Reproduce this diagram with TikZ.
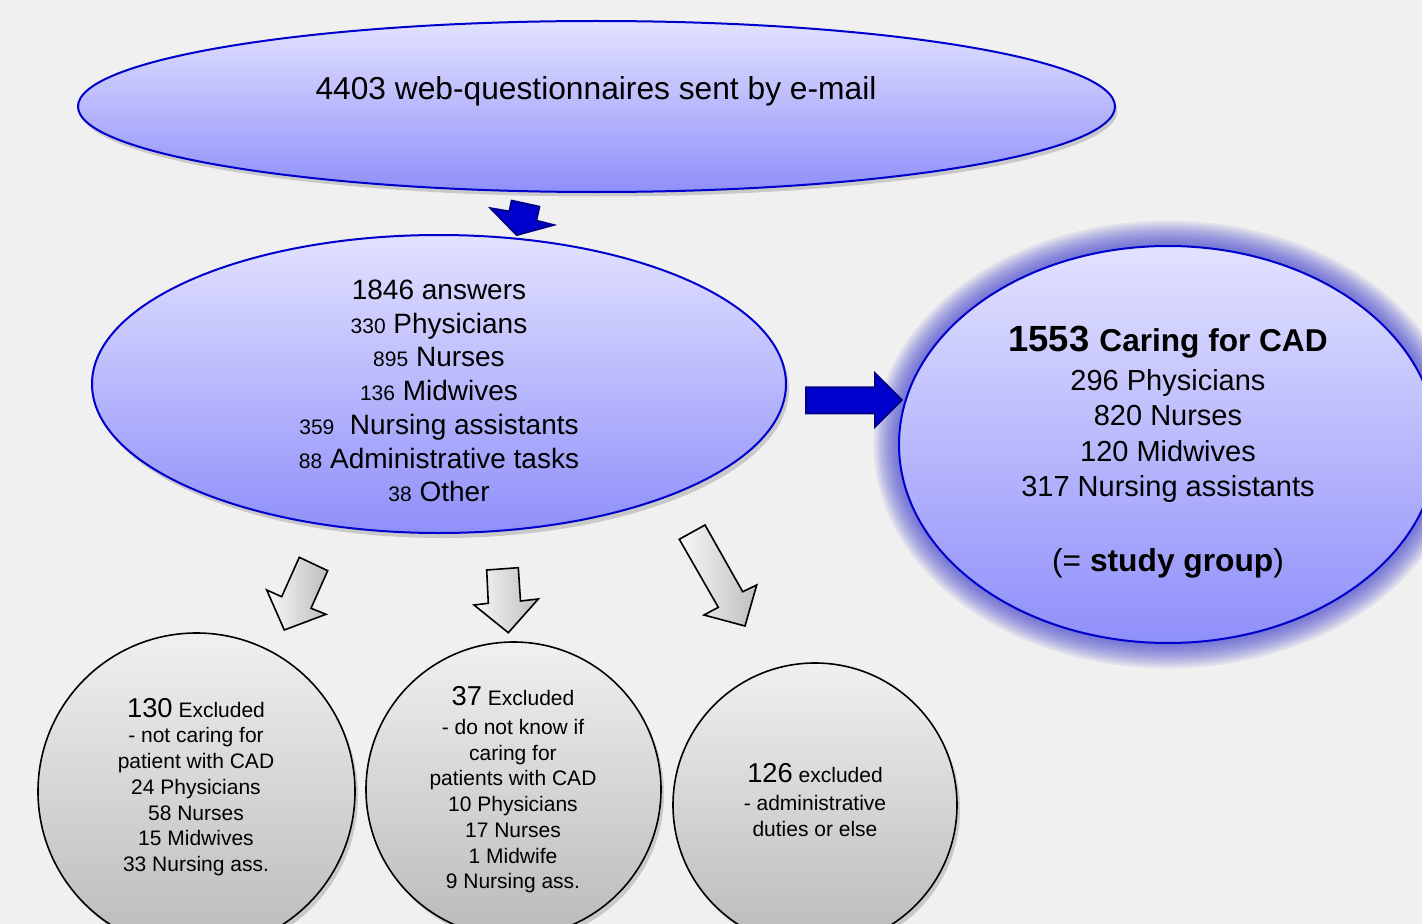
\documentclass[tikz,border=0pt]{standalone}
\usepackage{fontspec}
\setmainfont{Liberation Sans}
\usepackage{tikz}

\definecolor{bgGray}{RGB}{240,240,240}
\definecolor{ellTop}{RGB}{226,226,255}
\definecolor{ellBot}{RGB}{143,143,250}
\definecolor{ellLine}{RGB}{0,0,205}
\definecolor{glowBlue}{RGB}{55,55,205}
\definecolor{circTop}{RGB}{240,240,240}
\definecolor{circBot}{RGB}{186,186,186}
\definecolor{arrLight}{RGB}{248,248,248}
\definecolor{arrDark}{RGB}{190,190,190}
\definecolor{arrBlue}{RGB}{0,0,205}
\definecolor{arrBlueLine}{RGB}{0,0,140}

\newcommand{\smallnum}[1]{{\fontsize{15.75}{25.3}\selectfont #1}}
\newcommand{\bignum}[1]{{\fontsize{20.5}{19.3}\selectfont #1}}

\begin{document}
\begin{tikzpicture}[x=0.75pt,y=0.75pt,yscale=-1,xscale=1,
  bubble/.style={draw=ellLine, line width=1.5, top color=ellTop, bottom color=ellBot},
  disc/.style={draw=black, line width=1.2, top color=circTop, bottom color=circBot},
  grayarrow/.style={draw=black, line width=1.2, left color=arrLight, right color=arrDark},
  bluearrow/.style={draw=arrBlueLine, line width=1.5, fill=arrBlue},
  shade/.style={fill=black, opacity=0.16},
  txt/.style={align=center, inner sep=0.75pt, text=black}]

\useasboundingbox (0,0) rectangle (1422,924);
\fill[bgGray] (0,0) rectangle (1422,924);

%Shape: Ellipse (top)
\fill[shade] (599,111) ellipse (518.5 and 85.5);
\draw[bubble] (596.5,106.5) ellipse (518.5 and 85.5);
%Shape: Ellipse (answers)
\fill[shade] (442,389) ellipse (347 and 149);
\draw[bubble] (439,384) ellipse (347 and 149);
%Shape: Ellipse (study group) with glow
\foreach \g in {1,...,11}
  \fill[glowBlue, fill opacity=0.085] (1168,444.5) ellipse ({269+2.3*\g} and {198.5+2.3*\g});
\draw[bubble] (1168,444.5) ellipse (269 and 198.5);

%Shape: Circles
\fill[shade] (199.5,796) circle (158.5);
\draw[disc] (196.5,791.5) circle (158.5);
\fill[shade] (516.5,794) circle (147.5);
\draw[disc] (513.5,789.5) circle (147.5);
\fill[shade] (818,809.5) circle (142);
\draw[disc] (815,805) circle (142);

%Shape: Block arrows (blue)
\draw[bluearrow] (511.7,200.7) -- (539.3,206.7) -- (536.3,220.7) -- (553.3,225) -- (516.7,235) -- (490.7,208.3) -- (509.4,211.5) -- cycle;
\draw[bluearrow] (806,387.3) -- (875,387.3) -- (875,373.3) -- (901.7,400) -- (875,426.7) -- (875,413.3) -- (806,413.3) -- cycle;

%Shape: Block arrows (gray)
\draw[grayarrow] (299.3,557.3) -- (327.7,570.7) -- (311,608.3) -- (326,614.3) -- (284.3,630) -- (266.7,590) -- (281.7,596.7) -- cycle;
\draw[grayarrow] (486.7,570) -- (518.3,567.7) -- (520.5,601) -- (538.3,599) -- (508.3,632.7) -- (474,605) -- (488.3,603.3) -- cycle;
\draw[grayarrow] (679.3,539.3) -- (705,525) -- (742.7,591.7) -- (756.7,585) -- (745,626) -- (704,615) -- (718.3,607.3) -- cycle;

% Text Node
\node[txt, font=\fontsize{23.8}{28}\selectfont] (sent) at (596,91) {4403 web-questionnaires sent by e-mail};
% Text Node
\node[txt, font=\fontsize{21}{25.3}\selectfont] (answers) at (439,391) {1846 answers\\
  \smallnum{330} Physicians\\
  \smallnum{895} Nurses\\
  \smallnum{136} Midwives\\
  \smallnum{359}\ \ Nursing assistants\\
  \smallnum{88} Administrative tasks\\
  \smallnum{38} Other};
% Text Node
\node[txt, font=\fontsize{21.75}{26.6}\selectfont] (study) at (1168,452) {{\bfseries\fontsize{27.3}{26.6}\selectfont 1553 \fontsize{23.7}{26.6}\selectfont Caring for CAD}\\[2.6pt]
  296 Physicians\\
  820 Nurses\\
  120 Midwives\\
  317 Nursing assistants\\[29.6pt]
  {\fontsize{23.8}{26.6}\selectfont (= \textbf{study group})}};
% Text Node
\node[txt, font=\fontsize{15.75}{19.3}\selectfont] (notcaring) at (196,787) {\bignum{130} Excluded\\
  - not caring for\\
  patient with CAD\\
  24 Physicians\\
  58 Nurses\\
  15 Midwives\\
  33 Nursing ass.};
% Text Node
\node[txt, font=\fontsize{15.75}{19.3}\selectfont] (unknown) at (513,790) {\bignum{37} Excluded\\[2pt]
  - do not know if\\
  caring for\\
  patients with CAD\\
  10 Physicians\\
  17 Nurses\\
  1 Midwife\\
  9 Nursing ass.};
% Text Node
\node[txt, font=\fontsize{15.75}{19.3}\selectfont] (admin) at (815,800) {\bignum{126} excluded\\[2pt]
  - administrative\\
  duties or else};

\end{tikzpicture}
\end{document}
